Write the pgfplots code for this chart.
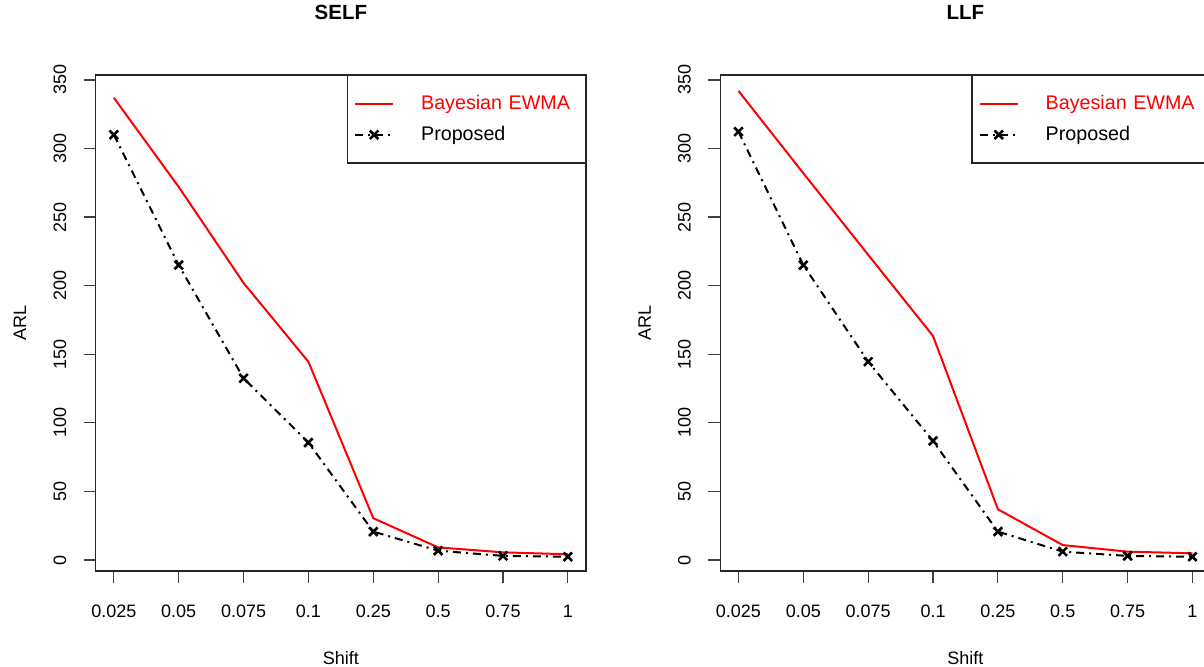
\documentclass[border=0pt]{standalone}
\usepackage{fontspec}
\setmainfont{Liberation Sans}
\usepackage{pgfplots}
\pgfplotsset{compat=1.18}

\pgfplotsset{
  arlpanel/.style={
    scale only axis, width=245.15pt, height=248pt,
    xmin=0.72, xmax=8.28, ymin=-8, ymax=353.6,
    xtick={1,2,3,4,5,6,7,8},
    xticklabels={0.025,0.05,0.075,0.1,0.25,0.5,0.75,1},
    ytick={0,50,100,150,200,250,300,350},
    tick align=outside, xtick pos=left, ytick pos=left,
    major tick length=6pt,
    axis line style={black!85, line width=0.6pt},
    tick style={black!75, line width=0.6pt},
    /pgf/number format/assume math mode=true,
    xticklabel style={font=\fontsize{9}{11}\selectfont, inner sep=0pt, anchor=north, yshift=-11pt},
    yticklabel style={font=\fontsize{9}{11}\selectfont, inner sep=0pt, xshift=-8.5pt, rotate=90, anchor=south},
    ylabel=ARL,
    ylabel style={font=\fontsize{9}{11}\selectfont, at={(axis description cs:-0.1544,0.5)}, anchor=center},
    xlabel=Shift,
    xlabel style={font=\fontsize{9}{11}\selectfont, at={(axis description cs:0.5,0)}, anchor=base, yshift=-47pt},
    title style={font=\fontsize{10.25}{12}\selectfont\bfseries, at={(axis description cs:0.5,1)}, anchor=base, yshift=21.65pt},
    legend cell align=left,
    legend image code/.code={
      \draw[mark repeat=2, mark phase=2, #1] plot coordinates {(0pt,0pt) (9.5pt,0pt) (19pt,0pt)};
    },
    legend style={at={(axis description cs:1,1)}, anchor=north east,
      draw=black!85, line width=0.6pt, inner xsep=3.35pt, inner ysep=9.8pt,
      column sep=13.5pt, row sep=6.85pt,
      nodes={inner sep=0pt, text width=78.8pt, anchor=west, font=\fontsize{9.85}{11}\selectfont}},
    bayes/.style={color=red, line width=1pt, mark=none},
    prop/.style={color=black, line width=1pt, mark=x, mark size=3pt,
      dash pattern=on 4pt off 2.5pt on 1pt off 2.5pt,
      mark options={solid, line width=1.3pt}},
  }
}

\begin{document}
\begin{tikzpicture}
\useasboundingbox (0,0) rectangle (602pt,333.5pt);
\clip (0,0) rectangle (602pt,333.5pt);

\begin{axis}[arlpanel, at={(47.85pt,48pt)}, anchor=south west, title={SELF}]
\addplot[bayes] coordinates {
  (1,337) (2,272) (3,202) (4,144.5) (5,30.5) (6,9.2) (7,5.6) (8,4.2)
};
\addlegendentry{\textcolor{red}{Bayesian EWMA}}
\addplot[prop] coordinates {
  (1,310) (2,215) (3,132.5) (4,85.6) (5,20.7) (6,6.8) (7,3) (8,2.4)
};
\addlegendentry{Proposed}
\end{axis}

\begin{axis}[arlpanel, at={(360.15pt,48pt)}, anchor=south west, title={LLF}]
\addplot[bayes] coordinates {
  (1,342) (2,282) (3,222.5) (4,163.3) (5,37) (6,10.9) (7,6.1) (8,4.9)
};
\addlegendentry{\textcolor{red}{Bayesian EWMA}}
\addplot[prop] coordinates {
  (1,312.3) (2,215) (3,144.6) (4,86.8) (5,20.7) (6,6.1) (7,3) (8,2.4)
};
\addlegendentry{Proposed}
\end{axis}
\end{tikzpicture}
\end{document}
